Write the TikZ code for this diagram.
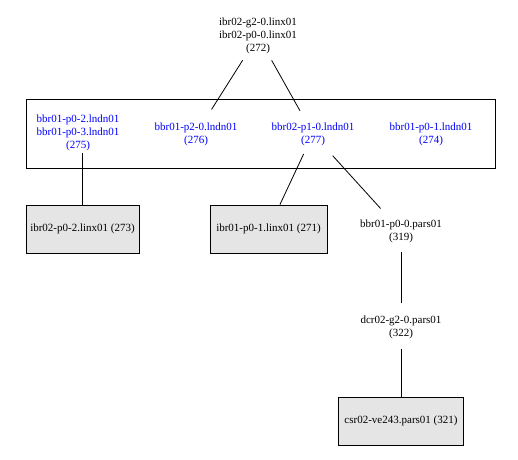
\documentclass[tikz,border=0pt]{standalone}
\usepackage{fontspec}
\setmainfont{Liberation Serif}
\definecolor{lblue}{RGB}{0,0,255}
\definecolor{boxgray}{RGB}{229,229,229}
\begin{document}
\begin{tikzpicture}[x=1pt,y=-1pt,
  lbl/.style={align=center,inner sep=2pt,font=\fontsize{11}{12.8}\selectfont},
  blbl/.style={lbl,text=lblue},
  gbox/.style={draw,fill=boxgray,inner sep=0pt,font=\fontsize{11}{12.8}\selectfont,line width=0.8pt},
  edge/.style={line width=0.8pt}]
\useasboundingbox (0,0) rectangle (518,459);
\draw[line width=0.8pt] (26,99) rectangle (495,168);
\node[lbl] (n272) at (258,36) {ibr02-g2-0.linx01\\ibr02-p0-0.linx01\\(272)};
\node[blbl] (n275) at (78,133) {bbr01-p0-2.lndn01\\bbr01-p0-3.lndn01\\(275)};
\node[blbl] (n276) at (196,134) {bbr01-p2-0.lndn01\\(276)};
\node[blbl] (n277) at (313,134) {bbr02-p1-0.lndn01\\(277)};
\node[blbl] (n274) at (431,134) {bbr01-p0-1.lndn01\\(274)};
\node[gbox,minimum width=113,minimum height=48] (n273) at (82.5,229) {ibr02-p0-2.linx01 (273)};
\node[gbox,minimum width=117,minimum height=48] (n271) at (268.5,229) {ibr01-p0-1.linx01 (271)};
\node[lbl] (n319) at (401,231) {bbr01-p0-0.pars01\\(319)};
\node[lbl] (n322) at (401,327) {dcr02-g2-0.pars01\\(322)};
\node[gbox,minimum width=125,minimum height=48] (n321) at (401,421) {csr02-ve243.pars01 (321)};
\draw[edge,shorten <=5pt,shorten >=13pt] (n272) -- (n276);
\draw[edge,shorten <=5pt,shorten >=11pt] (n272) -- (n277);
\draw[edge] (n275.south -| n273.north) -- (n273.north);
\draw[edge,shorten <=7pt] (n277) -- (n271);
\draw[edge,shorten <=11pt,shorten >=12pt] (n277) -- (n319);
\draw[edge,shorten <=7pt,shorten >=10pt] (n319) -- (n322);
\draw[edge,shorten <=8pt] (n322) -- (n321);
\end{tikzpicture}
\end{document}
